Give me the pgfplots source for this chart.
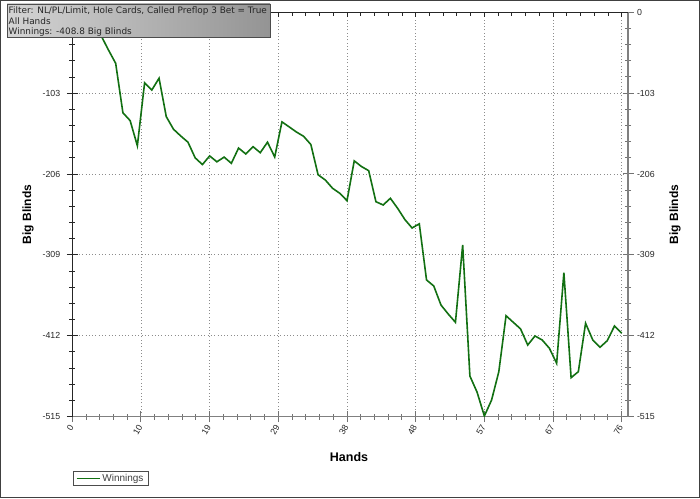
\documentclass[border=0pt]{standalone}
\usepackage{fontspec}
\setmainfont{Liberation Sans}
\newfontfamily\boxfont{DejaVu Sans}
\usepackage{pgfplots}
\pgfplotsset{compat=1.18}
\definecolor{lineg}{RGB}{18,112,18}
\begin{document}
\begin{tikzpicture}
\useasboundingbox (0pt,0pt) rectangle (700pt,498pt);
\fill[white] (0pt,0pt) rectangle (700pt,498pt);
\pgfplotsset{
  common/.style={
    at={(72.3pt,81.5pt)}, anchor=south west,
    scale only axis, width=555.7pt, height=404.2pt,
    xmin=0, xmax=76.87, ymin=-515, ymax=0,
    xtick={0,9.5,19,28.5,38,47.5,57,66.5,76},
    ytick={-515,-412,-309,-206,-103,0},
    minor x tick num=4, minor y tick num=4,
    ticklabel style={font=\fontsize{8.8}{9}\selectfont, text=black!85},
  }
}
\begin{axis}[common,
  axis x line*=bottom, axis y line*=left,
  xticklabels={0,10,19,29,38,48,57,67,76},
  yticklabels={-515,-412,-309,-206,-103,0},
  tick align=center,
  major tick length=11pt, minor tick length=6pt,
  x axis line style={black!50, line width=1.6pt},
  y axis line style={black!85, line width=1pt},
  xtick style={black!55, line width=1pt},
  ytick style={black!85, line width=0.8pt},
  xmajorgrids, ymajorgrids,
  major grid style={black!45, line width=0.8pt, dash pattern=on 0.9pt off 2.4pt},
  xticklabel style={rotate=60, anchor=east, yshift=-1pt},
  yticklabel style={xshift=-3pt},
  legend style={at={(0.001,-0.1348)}, anchor=north west, draw=black!70, line width=0.8pt,
    fill=white, font=\fontsize{10}{11}\selectfont, text=black!75, inner xsep=2.5pt, inner ysep=0.6pt},
  legend image code/.code={\draw[#1] (0pt,0pt) -- (23pt,0pt);},
]
\addplot[lineg, line width=1.6pt] coordinates {
(0,0) (1,-6) (2,-12) (3,-20) (4,-30) (5,-48) (6,-65) (7,-128) (8,-138) (9,-170)
(10,-90) (11,-99) (12,-84) (13,-133) (14,-149) (15,-157.6) (16,-165.5) (17,-185.5) (18,-194) (19,-183)
(20,-190.5) (21,-184.5) (22,-192.4) (23,-173) (24,-180.5) (25,-171.2) (26,-178.9) (27,-165.5) (28,-184.3) (29,-139.6)
(30,-146) (31,-152.5) (32,-158) (33,-168.5) (34,-207) (35,-213.7) (36,-224.2) (37,-230.6) (38,-240) (39,-189.3)
(40,-196.5) (41,-201.8) (42,-241.3) (43,-245.5) (44,-237) (45,-249.7) (46,-264) (47,-274.8) (48,-269.5) (49,-341)
(50,-348.7) (51,-373) (52,-384.4) (53,-395) (54,-296.5) (55,-463.4) (56,-484.2) (57,-514.4) (58,-494) (59,-457.9)
(60,-386.6) (61,-395) (62,-403.3) (63,-423.9) (64,-412.4) (65,-417.5) (66,-428.1) (67,-447.2) (68,-331.8) (69,-465.5)
(70,-457.9) (71,-396.2) (72,-417.5) (73,-426.8) (74,-418.4) (75,-399.7) (76,-408.8)
};
\addlegendentry{Winnings}
\end{axis}
\begin{axis}[common,
  hide x axis, axis y line*=right,
  yticklabels={-515,-412,-309,-206,-103,0},
  tick align=center,
  major tick length=11pt, minor tick length=6pt,
  y axis line style={black!50, line width=1.6pt},
  ytick style={black!55, line width=1pt},
]
\addplot[draw=none] coordinates {(0,0)};
\end{axis}
\begin{axis}[common,
  hide y axis, axis x line*=top,
  xticklabels={},
  tick align=inside,
  major tick length=5pt, minor tick length=4pt,
  x axis line style={black!85, line width=1pt},
  xtick style={black!85, line width=0.8pt},
]
\addplot[draw=none] coordinates {(0,0)};
\end{axis}
\node[rotate=90, font=\bfseries\fontsize{12}{12}\selectfont] at (28pt,283.6pt) {Big Blinds};
\node[rotate=90, font=\bfseries\fontsize{12}{12}\selectfont] at (675pt,283.6pt) {Big Blinds};
\node[font=\bfseries\fontsize{12.5}{12.5}\selectfont] at (349pt,41pt) {Hands};
% stats box
\shade[left color=black!17, right color=black!42] (7pt,461pt) rectangle (270pt,494pt);
\draw[black!70, line width=0.8pt] (7pt,461pt) rectangle (270pt,494pt);
\begin{scope}[every node/.style={anchor=west, inner sep=0pt, font=\boxfont\fontsize{8.9}{10}\selectfont, text=black!85}]
\node at (8.5pt,487pt) {Filter: NL/PL/Limit, Hole Cards, Called Preflop 3 Bet = True};
\node at (8.5pt,476.5pt) {All Hands};
\node at (8.5pt,465.8pt) {Winnings: -408.8 Big Blinds};
\end{scope}
\draw[black!75, line width=1pt] (0.5pt,0.5pt) rectangle (699.5pt,497.5pt);
\end{tikzpicture}
\end{document}
